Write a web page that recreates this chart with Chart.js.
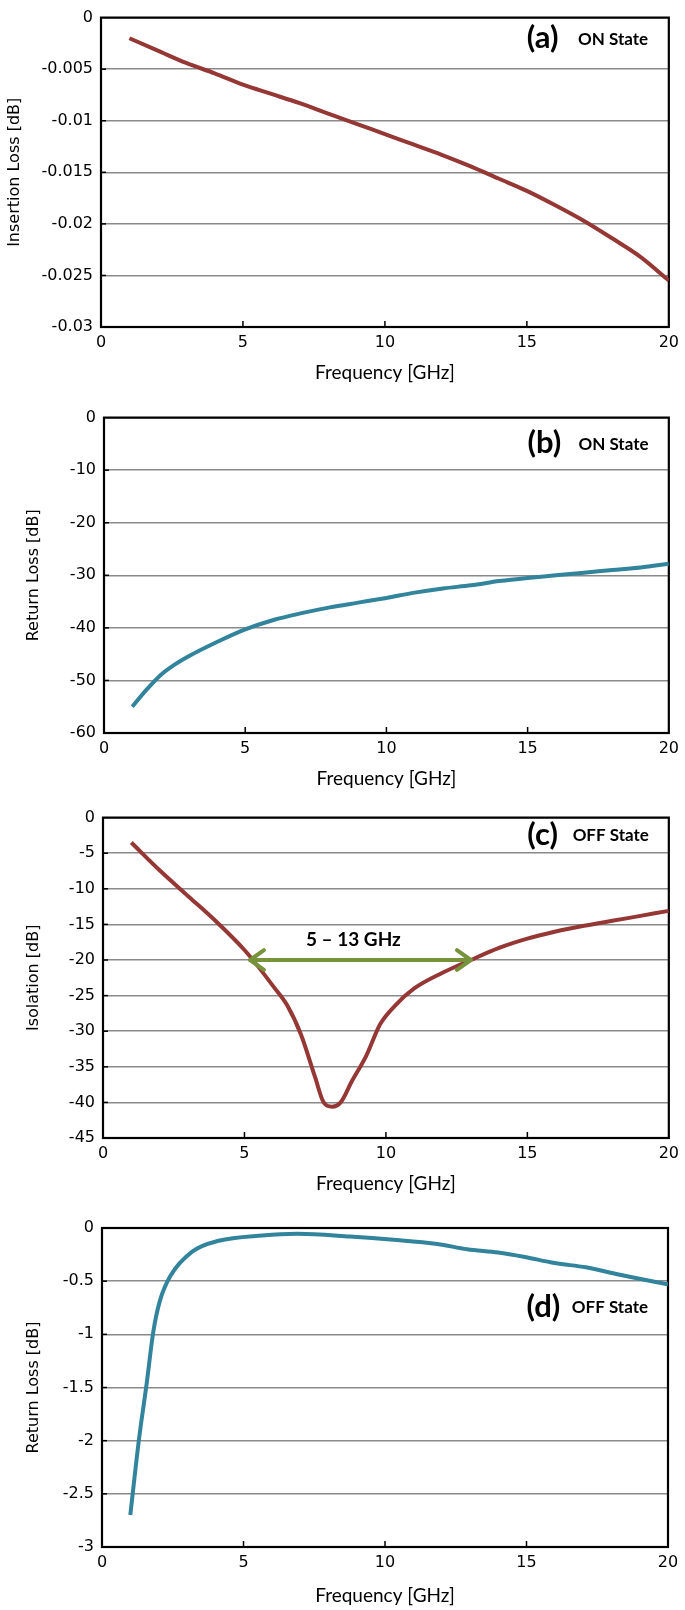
<!DOCTYPE html>
<html><head><meta charset="utf-8">
<script src="https://cdn.jsdelivr.net/npm/chart.js@4.4.1/dist/chart.umd.min.js"></script>
<style>
html,body{margin:0;padding:0;background:#fff;}
body{width:685px;height:1610px;position:relative;overflow:hidden;}
canvas{position:absolute;left:0;}
</style></head><body>
<canvas id="ca"></canvas>
<canvas id="cb"></canvas>
<canvas id="cc"></canvas>
<canvas id="cd"></canvas>
<script>
// ---- data ----
const xTickValues = [0, 5, 10, 15, 20];
const xTickLabels = ['0', '5', '10', '15', '20'];

const freqA = [1,2,3,4,5,6,7,8,9,10,11,12,13,14,15,16,17,18,19,20];
const insertionLossOn = [-0.0020,-0.0032,-0.0044,-0.0054,-0.0065,-0.0074,-0.0083,-0.0093,-0.0103,-0.0113,-0.0123,-0.0133,-0.0144,-0.0156,-0.0168,-0.0182,-0.0197,-0.0214,-0.0232,-0.0255];
const yTicksA = [0,-0.005,-0.01,-0.015,-0.02,-0.025,-0.03];
const yLabelsA = ['0','-0.005','-0.01','-0.015','-0.02','-0.025','-0.03'];

const freqB = [1,1.5,2,2.5,3,4,5,6,7,8,9,10,11,12,13,14,15,16,17,18,19,20];
const returnLossOn = [-55,-51.8,-49.0,-47.0,-45.4,-42.7,-40.3,-38.5,-37.2,-36.1,-35.2,-34.3,-33.3,-32.5,-31.9,-31.1,-30.5,-30.0,-29.5,-29.0,-28.5,-27.8];
const yTicksB = [0,-10,-20,-30,-40,-50,-60];
const yLabelsB = ['0','-10','-20','-30','-40','-50','-60'];

const freqC = [1,2,3,4,5,5.5,6,6.5,7,7.5,7.8,8.1,8.4,8.8,9.3,9.8,10.3,11,12,13,14,15,16,17,18,19,20];
const isolationOff = [-3.5,-7.4,-11.0,-14.6,-18.6,-21.0,-23.6,-26.3,-30.5,-36.5,-40,-40.6,-40,-37,-33.5,-29,-26.5,-24,-21.8,-20,-18.3,-17.0,-16.0,-15.2,-14.5,-13.8,-13.1];
const yTicksC = [0,-5,-10,-15,-20,-25,-30,-35,-40,-45];
const yLabelsC = ['0','-5','-10','-15','-20','-25','-30','-35','-40','-45'];
const bandEdges = [5.2, 13.0];
const bandLevel = -20;
const bandLabel = '5 – 13 GHz';

const freqD = [1,1.31,1.58,1.81,2.04,2.42,3.2,4.12,5.67,6.9,8.76,10.3,11.85,12.9,14,14.9,16,17.1,18.3,20];
const returnLossOff = [-2.7,-1.98,-1.46,-0.98,-0.69,-0.45,-0.22,-0.12,-0.07,-0.055,-0.08,-0.11,-0.15,-0.2,-0.23,-0.27,-0.33,-0.37,-0.44,-0.53];
const yTicksD = [0,-0.5,-1,-1.5,-2,-2.5,-3];
const yLabelsD = ['0','-0.5','-1','-1.5','-2','-2.5','-3'];

const panelLabels = ['(a)','(b)','(c)','(d)'];
const stateLabels = ['ON State','ON State','OFF State','OFF State'];

// ---- styling / layout ----
const RED = '#953735';
const TEAL = '#31849B';
const GREEN = '#77933C';
const GRID = '#8a8a8a';
const TICK_FONT = {family: 'DejaVu Sans', size: 16};
const XTITLE_FONT = {family: 'Lato', size: 19};
const YTITLE_FONT = {family: 'DejaVu Sans', size: 16};

const panelPlugin = {
  id: 'panel',
  beforeDatasetsDraw(chart, args, o) {
    const {ctx, chartArea: a, scales: {x, y}} = chart;
    ctx.save();
    ctx.strokeStyle = '#000';
    ctx.lineWidth = 1.5;
    o.xTicks.forEach(v => {
      if (v <= x.min || v >= x.max) return;
      const px = x.getPixelForValue(v);
      ctx.beginPath(); ctx.moveTo(px, a.bottom); ctx.lineTo(px, a.bottom - 6); ctx.stroke();
    });
    o.yTicks.forEach(v => {
      if (v <= y.min || v >= y.max) return;
      const py = y.getPixelForValue(v);
      ctx.beginPath(); ctx.moveTo(a.left, py); ctx.lineTo(a.left + 5, py); ctx.stroke();
    });
    ctx.lineWidth = 2.2;
    ctx.strokeRect(a.left, a.top, a.right - a.left, a.bottom - a.top);
    ctx.restore();
  },
  afterDatasetsDraw(chart, args, o) {
    const {ctx, scales: {x, y}} = chart;
    ctx.save();
    ctx.fillStyle = '#000';
    ctx.textBaseline = 'middle';
    ctx.textAlign = 'left';
    ctx.font = 'bold 31px Lato';
    ctx.fillText(o.panel, x.getPixelForValue(o.panelX), y.getPixelForValue(o.labelY));
    ctx.font = 'bold 17px Lato';
    ctx.fillText(o.state, x.getPixelForValue(o.stateX), y.getPixelForValue(o.labelY) + 1);
    if (o.band) {
      const x1 = x.getPixelForValue(o.band.from), x2 = x.getPixelForValue(o.band.to);
      const py = y.getPixelForValue(o.band.level);
      ctx.strokeStyle = GREEN; ctx.lineWidth = 4; ctx.lineCap = 'round'; ctx.lineJoin = 'round';
      ctx.beginPath(); ctx.moveTo(x1, py); ctx.lineTo(x2, py); ctx.stroke();
      const L = 17, ang = 0.62;
      ctx.beginPath();
      ctx.moveTo(x1 + L*Math.cos(ang), py - L*Math.sin(ang)); ctx.lineTo(x1, py); ctx.lineTo(x1 + L*Math.cos(ang), py + L*Math.sin(ang));
      ctx.moveTo(x2 - L*Math.cos(ang), py - L*Math.sin(ang)); ctx.lineTo(x2, py); ctx.lineTo(x2 - L*Math.cos(ang), py + L*Math.sin(ang));
      ctx.stroke();
      ctx.fillStyle = '#000';
      ctx.textAlign = 'center';
      ctx.font = 'bold 19px Lato';
      ctx.fillText(o.band.text, x.getPixelForValue(o.band.textX), y.getPixelForValue(o.band.textY));
    }
    ctx.restore();
  }
};

function makeChart(id, cfg) {
  const cv = document.getElementById(id);
  cv.width = 685; cv.height = cfg.height;
  cv.style.top = cfg.top + 'px';
  cv.style.width = '685px'; cv.style.height = cfg.height + 'px';
  const revTicks = cfg.yTicks.slice().reverse();
  const revLabels = cfg.yLabels.slice().reverse();
  return new Chart(cv, {
    type: 'line',
    data: {datasets: [{
      data: cfg.xs.map((v, i) => ({x: v, y: cfg.ys[i]})),
      borderColor: cfg.color, borderWidth: 4, pointRadius: 0,
      cubicInterpolationMode: 'monotone', fill: false
    }]},
    options: {
      responsive: false, animation: false, devicePixelRatio: 1,
      layout: {padding: {top: cfg.padTop, right: cfg.padRight, left: 0, bottom: 0}},
      plugins: {
        legend: {display: false}, tooltip: {enabled: false},
        panel: {xTicks: xTickValues, yTicks: cfg.yTicks, panel: cfg.panel, state: cfg.state,
                panelX: 15.0, stateX: cfg.stateX, labelY: cfg.labelY, band: cfg.band}
      },
      scales: {
        x: {
          type: 'linear', min: 0, max: 20,
          afterBuildTicks: s => { s.ticks = xTickValues.map(v => ({value: v})); },
          afterFit: s => { s.height = cfg.xAxisH; },
          grid: {display: false, drawTicks: false},
          border: {display: false},
          ticks: {font: TICK_FONT, color: '#000', padding: 6, maxRotation: 0,
                  callback: (v, i) => xTickLabels[i]},
          title: {display: true, text: 'Frequency [GHz]', font: XTITLE_FONT, color: '#000',
                  padding: {top: 0, bottom: 3}}
        },
        y: {
          type: 'linear', min: cfg.yTicks[cfg.yTicks.length - 1], max: 0,
          afterBuildTicks: s => { s.ticks = revTicks.map(v => ({value: v})); },
          afterFit: s => { s.width = cfg.axisLeft; },
          grid: {color: GRID, lineWidth: 1.5, drawTicks: false},
          border: {display: false},
          ticks: {font: TICK_FONT, color: '#000', padding: 8,
                  callback: (v, i) => revLabels[i]},
          title: {display: true, text: cfg.yTitle, font: YTITLE_FONT, color: '#000',
                  padding: {top: cfg.yTitlePad, bottom: 0}}
        }
      }
    },
    plugins: [panelPlugin]
  });
}

makeChart('ca', {top: 0, height: 387, padTop: 10, padRight: 14, axisLeft: 101, xAxisH: 60,
  xs: freqA, ys: insertionLossOn, color: RED, yTicks: yTicksA, yLabels: yLabelsA,
  yTitle: 'Insertion Loss [dB]', yTitlePad: 5, panel: panelLabels[0], state: stateLabels[0],
  stateX: 16.8, labelY: -0.002});
makeChart('cb', {top: 400, height: 393, padTop: 16, padRight: 14, axisLeft: 104, xAxisH: 60,
  xs: freqB, ys: returnLossOn, color: TEAL, yTicks: yTicksB, yLabels: yLabelsB,
  yTitle: 'Return Loss [dB]', yTitlePad: 24, panel: panelLabels[1], state: stateLabels[1],
  stateX: 16.8, labelY: -4.9});
makeChart('cc', {top: 800, height: 398, padTop: 15, padRight: 16, axisLeft: 103, xAxisH: 60,
  xs: freqC, ys: isolationOff, color: RED, yTicks: yTicksC, yLabels: yLabelsC,
  yTitle: 'Isolation [dB]', yTitlePad: 24, panel: panelLabels[2], state: stateLabels[2],
  stateX: 16.6, labelY: -2.4,
  band: {from: bandEdges[0], to: bandEdges[1], level: bandLevel, text: bandLabel, textX: 8.85, textY: -17.2}});
makeChart('cd', {top: 1205, height: 405, padTop: 23, padRight: 17, axisLeft: 102, xAxisH: 63,
  xs: freqD, ys: returnLossOff, color: TEAL, yTicks: yTicksD, yLabels: yLabelsD,
  yTitle: 'Return Loss [dB]', yTitlePad: 24, panel: panelLabels[3], state: stateLabels[3],
  stateX: 16.6, labelY: -0.74});
</script>
</body></html>
